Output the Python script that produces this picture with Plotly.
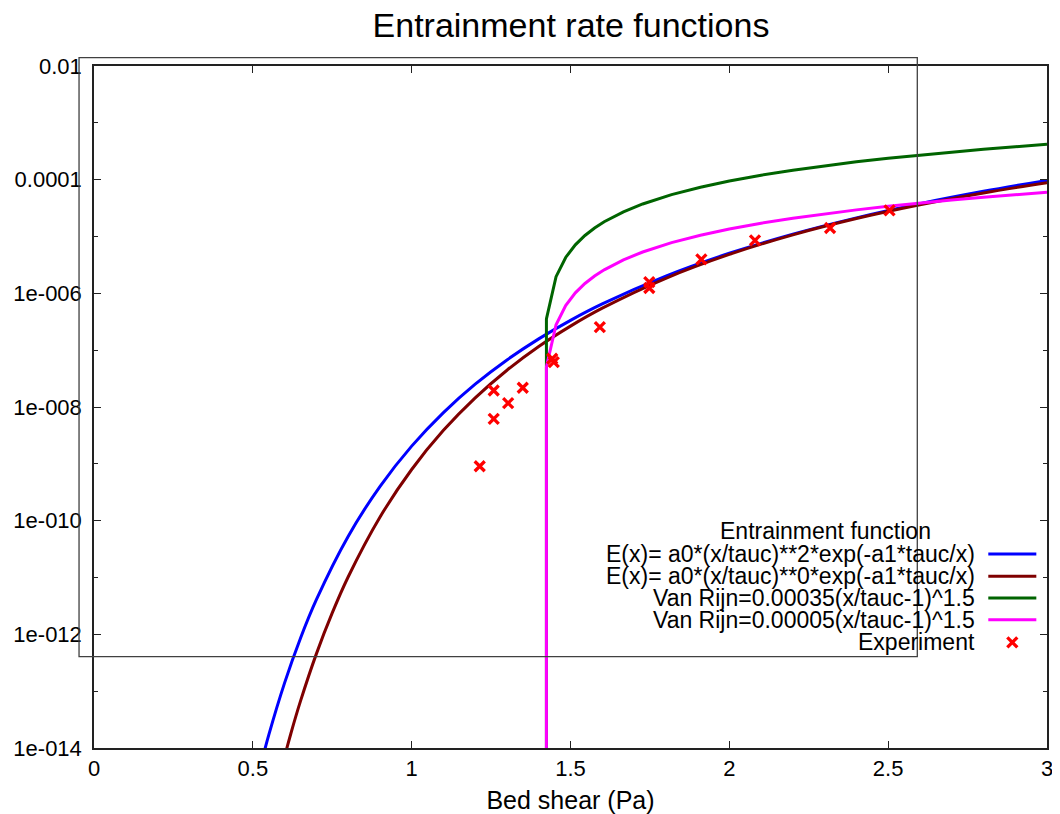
import plotly.graph_objects as go

# ---- data ----
x_blue = [0.52, 0.55, 0.6, 0.65, 0.7, 0.8, 0.9, 1.0, 1.1, 1.2, 1.3, 1.4, 1.5, 1.6, 1.8, 2.0, 2.2, 2.4, 2.6, 2.8, 3.0]
y_blue = [3.90e-15, 1.68e-14, 1.40e-13, 8.55e-13, 4.07e-12, 5.28e-11, 3.98e-10, 2.05e-9, 7.98e-9, 2.52e-8,
          6.73e-8, 1.58e-7, 3.35e-7, 6.51e-7, 2.01e-6, 5.07e-6, 1.10e-5, 2.13e-5, 3.78e-5, 6.23e-5, 9.72e-5]

x_brown = [0.59, 0.62, 0.65, 0.7, 0.75, 0.8, 0.9, 1.0, 1.1, 1.2, 1.3, 1.4, 1.5, 1.6, 1.8, 2.0, 2.2, 2.4, 2.6, 2.8, 3.0]
y_brown = [4.36e-15, 1.82e-14, 6.67e-14, 4.53e-13, 2.38e-12, 1.02e-11, 1.15e-10, 7.95e-10, 3.88e-9, 1.45e-8,
           4.44e-8, 1.16e-7, 2.65e-7, 5.48e-7, 1.84e-6, 4.84e-6, 1.07e-5, 2.07e-5, 3.62e-5, 5.84e-5, 8.85e-5]

x_vr = [1.4242, 1.4242, 1.4545, 1.4848, 1.5152, 1.5455, 1.5758, 1.6061, 1.6667, 1.7273, 1.8182, 1.9091,
        2.0, 2.1, 2.2, 2.3, 2.4, 2.5, 2.6, 2.7, 2.8, 2.9, 3.0]
y_green = [1e-16, 3.537e-7, 1.962e-6, 4.277e-6, 7.133e-6, 1.043e-5, 1.411e-5, 1.815e-5, 2.719e-5, 3.736e-5,
           5.452e-5, 7.371e-5, 9.474e-5, 1.198e-4, 1.468e-4, 1.755e-4, 2.059e-4, 2.379e-4, 2.714e-4, 3.063e-4,
           3.426e-4, 3.802e-4, 4.191e-4]
y_magenta = [1e-16, 5.05e-8, 2.80e-7, 6.11e-7, 1.019e-6, 1.490e-6, 2.016e-6, 2.593e-6, 3.884e-6, 5.338e-6,
             7.789e-6, 1.053e-5, 1.353e-5, 1.712e-5, 2.097e-5, 2.507e-5, 2.942e-5, 3.398e-5, 3.877e-5, 4.375e-5,
             4.894e-5, 5.432e-5, 5.987e-5]

x_exp = [1.2142, 1.2583, 1.2583, 1.3037, 1.3497, 1.4424, 1.4474, 1.5924, 1.7480, 1.7480, 1.9119, 2.0808, 2.3171, 2.5043]
y_exp = [9.08e-10, 1.95e-8, 6.20e-9, 1.17e-8, 2.18e-8, 7.06e-8, 6.15e-8, 2.54e-7, 1.57e-6, 1.24e-6,
         3.95e-6, 8.53e-6, 1.41e-5, 2.88e-5]

y_tick_vals = [1e-14, 1e-12, 1e-10, 1e-8, 1e-6, 1e-4, 1e-2]
y_tick_text = ["1e-014", "1e-012", "1e-010", "1e-008", "1e-006", "0.0001", "0.01"]
y_minor_vals = [1e-13, 1e-11, 1e-9, 1e-7, 1e-5, 1e-3]
x_tick_vals = [0, 0.5, 1, 1.5, 2, 2.5, 3]
x_tick_text = ["0", "0.5", "1", "1.5", "2", "2.5", "3"]

legend_title = "Entrainment function"
legend_labels = ["E(x)= a0*(x/tauc)**2*exp(-a1*tauc/x)",
                 "E(x)= a0*(x/tauc)**0*exp(-a1*tauc/x)",
                 "Van Rijn=0.00035(x/tauc-1)^1.5",
                 "Van Rijn=0.00005(x/tauc-1)^1.5",
                 "Experiment"]
colors = ["#0000ff", "#7f0000", "#006400", "#ff00ff", "#ff0000"]

FONT = "Liberation Sans, Arial, Helvetica, sans-serif"
MARKER = dict(symbol="x-thin", size=10, color=colors[4], line=dict(width=3.3, color=colors[4]))

fig = go.Figure()
fig.add_trace(go.Scatter(x=x_blue, y=y_blue, mode="lines", line=dict(color=colors[0], width=3, shape="spline"),
                         showlegend=False))
fig.add_trace(go.Scatter(x=x_brown, y=y_brown, mode="lines", line=dict(color=colors[1], width=3, shape="spline"),
                         showlegend=False))
fig.add_trace(go.Scatter(x=x_vr, y=y_green, mode="lines", line=dict(color=colors[2], width=3), showlegend=False))
fig.add_trace(go.Scatter(x=x_vr, y=y_magenta, mode="lines", line=dict(color=colors[3], width=3), showlegend=False))
fig.add_trace(go.Scatter(x=x_exp, y=y_exp, mode="markers", marker=MARKER, showlegend=False))

# legend built by hand (text right-aligned, key sample to the right, as in the original)
row_y = [0.2846, 0.2518, 0.2201, 0.1882, 0.1549]
text_right = 0.9268
key_x0, key_x1 = 0.9384, 0.9888
annotations = [dict(text=legend_title, x=0.7673, y=0.3178, xref="paper", yref="paper",
                    xanchor="center", yanchor="middle", showarrow=False,
                    font=dict(size=23, color="black", family=FONT))]
shapes = []
for i, lab in enumerate(legend_labels):
    annotations.append(dict(text=lab, x=text_right, y=row_y[i], xref="paper", yref="paper",
                            xanchor="right", yanchor="middle", showarrow=False,
                            font=dict(size=23, color="black", family=FONT)))
    if i < 4:
        shapes.append(dict(type="line", xref="paper", yref="paper", x0=key_x0, x1=key_x1,
                           y0=row_y[i], y1=row_y[i], line=dict(color=colors[i], width=3)))

# legend marker sample on an invisible overlay axis
fig.add_trace(go.Scatter(x=[(key_x0 + key_x1) / 2], y=[row_y[4]], xaxis="x2", yaxis="y2", mode="markers",
                         marker=MARKER, showlegend=False, hoverinfo="skip"))

# extra frame rectangle present in the original
shapes.append(dict(type="rect", xref="paper", yref="paper", x0=-0.0157, x1=0.8639, y0=0.134, y1=1.0123,
                   line=dict(color="#404040", width=1.3), fillcolor="rgba(0,0,0,0)", layer="above"))

W, H = 1052, 806
fig.update_layout(
    width=W, height=H,
    margin=dict(l=86, r=13, t=58, b=66, autoexpand=False),
    paper_bgcolor="white", plot_bgcolor="white",
    font=dict(family=FONT, size=22, color="black"),
    title=dict(text="Entrainment rate functions", x=563 / W, xanchor="center",
               y=1 - 5 / H, yanchor="top", yref="container", pad=dict(t=0, b=0),
               font=dict(size=34, color="black", family=FONT)),
    xaxis=dict(range=[0, 3], tickvals=x_tick_vals, ticktext=x_tick_text,
               ticks="inside", ticklen=7, tickcolor="#222", showline=True, linecolor="#222", linewidth=1.5,
               mirror="ticks", showgrid=False, zeroline=False, automargin=False,
               tickfont=dict(size=22), title=dict(text="Bed shear (Pa)", font=dict(size=25), standoff=12)),
    yaxis=dict(type="log", range=[-14, -2], tickvals=y_tick_vals, ticktext=y_tick_text,
               ticks="inside", ticklen=7, tickcolor="#222", showline=True, linecolor="#222", linewidth=1.5,
               mirror="ticks", showgrid=False, zeroline=False, tickfont=dict(size=22), automargin=False,
               ticklabelstandoff=6,
               minor=dict(tickvals=y_minor_vals, ticks="inside", ticklen=4, tickcolor="#222", showgrid=False)),
    xaxis2=dict(overlaying="x", range=[0, 1], visible=False, fixedrange=True),
    yaxis2=dict(overlaying="y", range=[0, 1], visible=False, fixedrange=True),
    annotations=annotations,
    shapes=shapes,
)

fig.write_html("out.html")
